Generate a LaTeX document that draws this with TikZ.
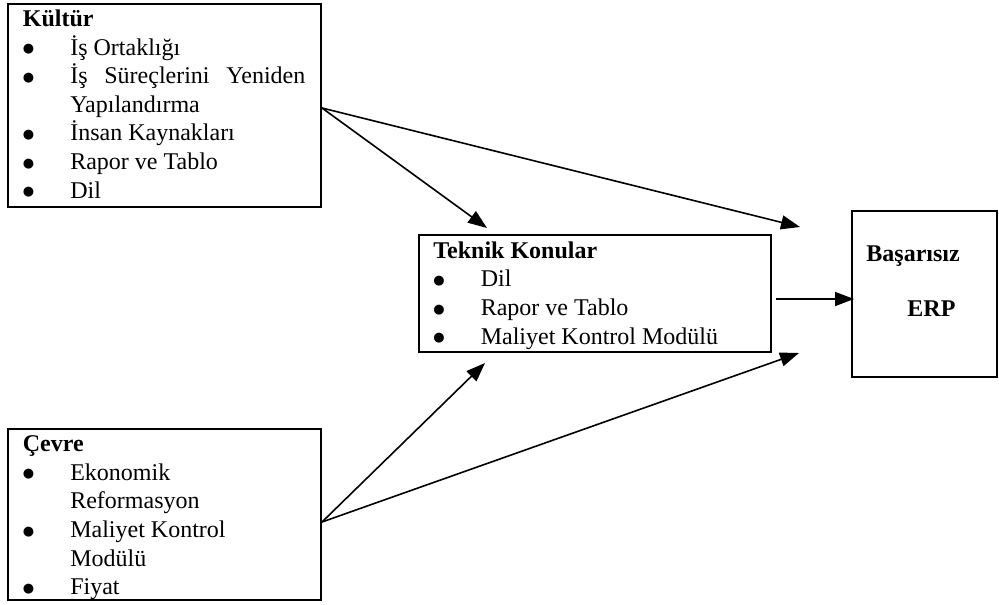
\documentclass[tikz,border=0pt]{standalone}
\usepackage{fontspec}
\setmainfont{Liberation Serif}
\newfontfamily\dotfont{DejaVu Sans}
\usetikzlibrary{arrows.meta}

\newcommand{\blt}{\makebox[23.7pt][l]{\raisebox{1.2pt}{\dotfont\fontsize{6.5}{7}\selectfont ●}}}
\newcommand{\ind}{\hspace*{23.7pt}}
\newcommand{\blist}[1]{\begin{tabular}[t]{@{}l@{}}#1\end{tabular}}

\begin{document}
\begin{tikzpicture}[x=0.5pt,y=-0.5pt,>={Triangle[length=9.5pt,width=7pt]},
  box/.style={draw,line width=1pt,inner sep=0pt},
  txt/.style={inner sep=0pt,anchor=base west,font=\fontsize{12}{14.3}\selectfont},
  arr/.style={->,line width=0.8pt}]
  \useasboundingbox (0,0) rectangle (999,604);
  % boxes
  \node[box,minimum width=156.5pt,minimum height=101.5pt] (kultur) at (164.5,105.5) {};
  \node[box,minimum width=156.5pt,minimum height=85.5pt]  (cevre)  at (164.5,514.5) {};
  \node[box,minimum width=176pt,minimum height=58.5pt]    (teknik) at (595,293.5) {};
  \node[box,minimum width=72.5pt,minimum height=83pt]     (erp)    at (924.5,294) {};
  % texts
  \node[txt] (kultur text) at (22.5,26.5) {\blist{%
    \textbf{Kültür}\\
    \blt İş Ortaklığı\\
    \blt \makebox[117.5pt][s]{İş Süreçlerini Yeniden}\\
    \ind Yapılandırma\\
    \blt İnsan Kaynakları\\
    \blt Rapor ve Tablo\\
    \blt Dil}};
  \node[txt] (cevre text) at (22.5,451.7) {\blist{%
    \textbf{Çevre}\\
    \blt Ekonomik\\
    \ind Reformasyon\\
    \blt Maliyet Kontrol\\
    \ind Modülü\\
    \blt Fiyat}};
  \node[txt] (teknik text) at (433,258.3) {\blist{%
    \textbf{Teknik Konular}\\
    \blt Dil\\
    \blt Rapor ve Tablo\\
    \blt Maliyet Kontrol Modülü}};
  \node[txt,font=\fontsize{12}{14.3}\selectfont\bfseries] (erp top) at (866,261.5) {Başarısız};
  \node[txt,font=\fontsize{12}{14.3}\selectfont\bfseries] (erp bottom) at (907,316.5) {ERP};
  % arrow ends
  \coordinate (teknik in1) at (487,228);
  \coordinate (teknik in2) at (485,363);
  \coordinate (erp in1) at (800,227);
  \coordinate (erp in2) at (799,353);
  \draw[arr] ([yshift=-1.25pt]kultur.east) -- (teknik in1);
  \draw[arr] ([yshift=-1.25pt]kultur.east) -- (erp in1);
  \draw[arr] ([yshift=-3.75pt]cevre.east) -- (teknik in2);
  \draw[arr] ([yshift=-3.75pt]cevre.east) -- (erp in2);
  \draw[arr] ([xshift=2pt,yshift=-2.75pt]teknik.east) -- ([xshift=1.5pt,yshift=-2.5pt]erp.west);
\end{tikzpicture}
\end{document}
